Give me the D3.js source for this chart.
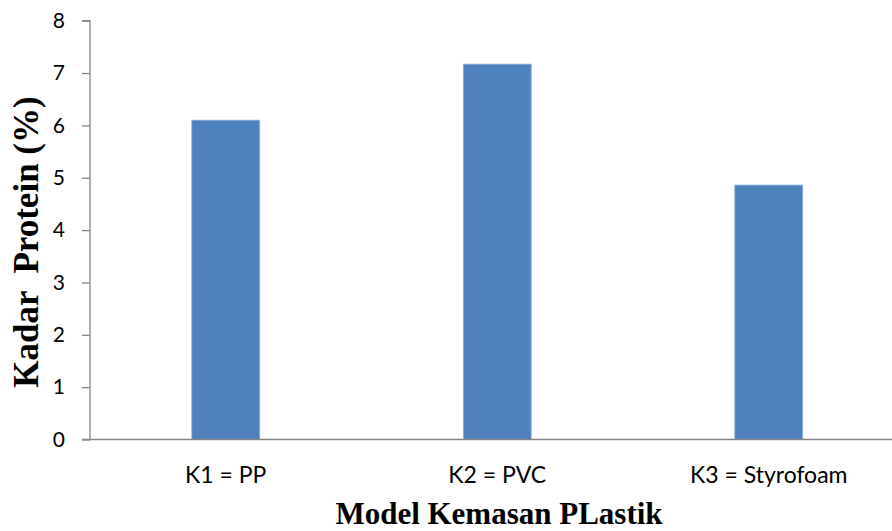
<!DOCTYPE html>
<html>
<head>
<meta charset="utf-8">
<script src="https://cdn.jsdelivr.net/npm/d3@7"></script>
<style>
  body { margin: 0; background: #fff; }
  .tick text { fill: #000; }
</style>
</head>
<body>
<div id="chart"></div>
<script>
// Data
const categories = ["K1 = PP", "K2 = PVC", "K3 = Styrofoam"];
const proteinValues = [6.10, 7.17, 4.86];
const yTicks = [0, 1, 2, 3, 4, 5, 6, 7, 8];

const fullWidth = 892,
    fullHeight = 531;

const svg = d3.select("#chart")
    .append("svg")
    .attr("width", fullWidth)
    .attr("height", fullHeight);

// Scales
const x = d3.scaleBand()
    .domain(categories)
    .range([90, 904.5])
    .paddingInner(0.75)
    .paddingOuter(0.375);

const y = d3.scaleLinear()
    .domain([0, 8])
    .range([439.5, 20.7]);

// Bars
svg.selectAll(".bar")
    .data(categories)
    .join("rect")
    .attr("class", "bar")
    .attr("x", d => x(d))
    .attr("width", x.bandwidth())
    .attr("y", (d, i) => y(proteinValues[i]))
    .attr("height", (d, i) => y(0) - y(proteinValues[i]))
    .style("fill", "#4f81bd")
    .style("stroke", "#8eaedb")
    .style("stroke-width", 0.8);

// y axis
const yAxis = svg.append("g")
    .attr("transform", "translate(90,0)")
    .call(d3.axisLeft(y).tickValues(yTicks).tickFormat(d3.format("d")).tickSize(8).tickPadding(17));
yAxis.selectAll("line, path").attr("stroke", "#868686").attr("stroke-width", 1.3);
yAxis.select(".domain").attr("d", "M-8," + y(8) + "H0V" + y(0));
yAxis.selectAll("text")
    .style("font-family", "Lato, 'Open Sans', sans-serif")
    .style("font-size", "21px");

// x axis
const xAxis = svg.append("g")
    .attr("transform", `translate(0,${y(0)})`)
    .call(d3.axisBottom(x).tickSize(0).tickPadding(27));
xAxis.select(".domain").attr("stroke", "#868686").attr("stroke-width", 1.3)
    .attr("d", "M82,0H904.5");
xAxis.selectAll("text")
    .style("font-family", "Lato, 'Open Sans', sans-serif")
    .style("font-size", "23px");

// Axis titles
svg.append("text")
    .attr("text-anchor", "middle")
    .attr("x", 499)
    .attr("y", 524)
    .style("font-family", "'Liberation Serif', 'Times New Roman', serif")
    .style("font-weight", "bold")
    .style("font-size", "31px")
    .text("Model Kemasan PLastik");

svg.append("text")
    .attr("text-anchor", "middle")
    .attr("transform", "translate(38,242) rotate(-90)")
    .style("font-family", "'Liberation Serif', 'Times New Roman', serif")
    .style("font-weight", "bold")
    .style("font-size", "35px")
    .style("white-space", "pre")
    .text("Kadar  Protein (%)");
</script>
</body>
</html>
